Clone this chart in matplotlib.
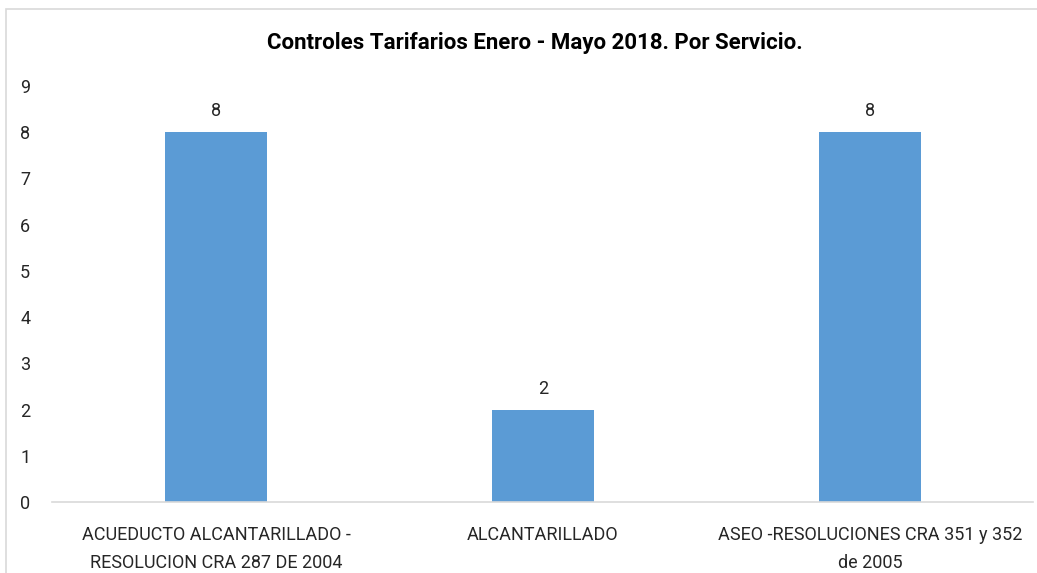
import matplotlib.pyplot as plt
from matplotlib.patches import Rectangle

# Chart data
categories = [
    "ACUEDUCTO ALCANTARILLADO -\nRESOLUCION CRA 287 DE 2004",
    "ALCANTARILLADO",
    "ASEO -RESOLUCIONES CRA 351 y 352\nde 2005",
]
controles = [8, 2, 8]
y_ticks = list(range(0, 10))

title = "Controles Tarifarios Enero - Mayo 2018. Por Servicio."

plt.rcParams['font.family'] = ['Roboto', 'DejaVu Sans']

fig = plt.figure(figsize=(10.37, 5.73), dpi=100)

# light gray frame of the chart area (cropped at right and bottom)
fig.patches.append(Rectangle((6 / 1037, -0.1), 1.2, 1 - 9 / 573 + 0.1,
                             transform=fig.transFigure, fill=False,
                             edgecolor='#d9d9d9', linewidth=1.2))

ax = fig.add_axes([0.0506, 0.1239, 0.9460, 0.7260])
x = range(len(categories))
bars = ax.bar(x, controles, width=0.31, color='#5b9bd5')

for b, v in zip(bars, controles):
    ax.text(b.get_x() + b.get_width() / 2, v + 0.26, str(v),
            ha='center', va='bottom', fontsize=13, color='#262626')

ax.set_xlim(-0.5, len(categories) - 0.5)
ax.set_ylim(0, 9)
ax.set_yticks(y_ticks)
ax.set_xticks(list(x))
ax.set_xticklabels(categories, fontsize=13, color='#262626', linespacing=1.72)
ax.tick_params(axis='y', length=0, pad=16, labelsize=13, labelcolor='#262626')
ax.tick_params(axis='x', length=0, pad=17)

for s in ['top', 'right', 'left']:
    ax.spines[s].set_visible(False)
ax.spines['bottom'].set_color('#d9d9d9')
ax.spines['bottom'].set_linewidth(1.2)

fig.text(0.5155, 1 - 43 / 573, title, ha='center', va='center',
         fontsize=16, fontweight='bold', color='#000000')

fig.savefig('out.png', dpi=100)
